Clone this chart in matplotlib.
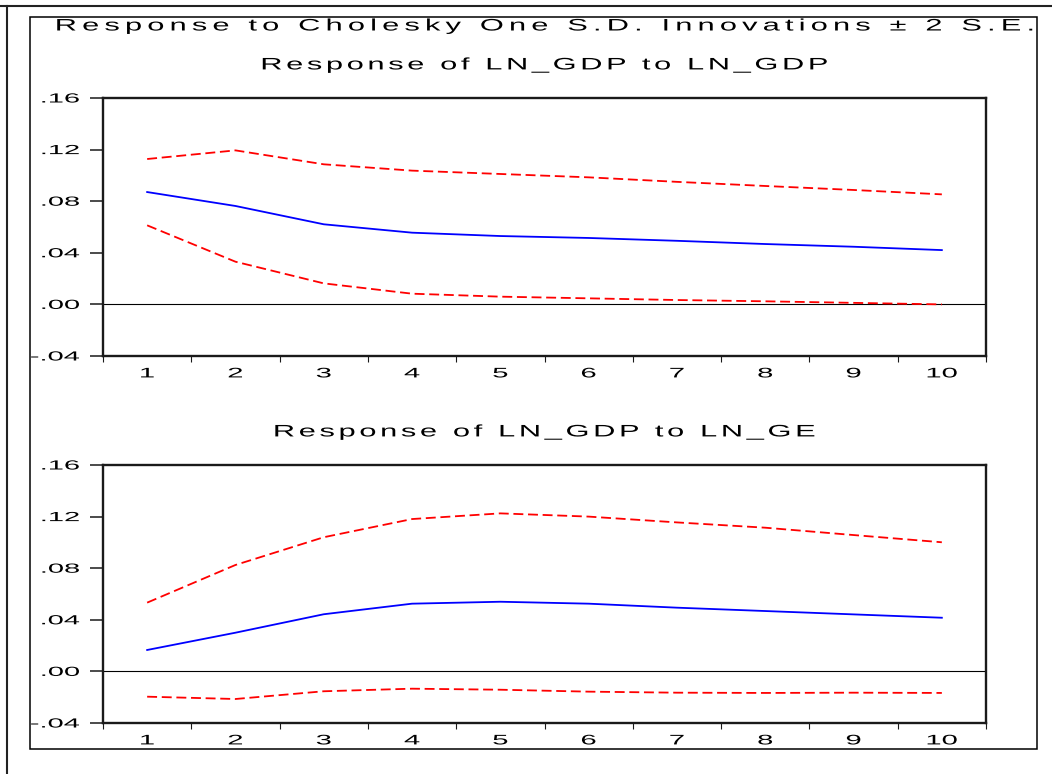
import numpy as np
import matplotlib
matplotlib.use("Agg")
import matplotlib.pyplot as plt
from matplotlib.patheffects import AbstractPathEffect
from matplotlib.path import Path
from matplotlib.transforms import IdentityTransform
from matplotlib.lines import Line2D
from matplotlib.patches import Rectangle

# ---------------- data ----------------
periods = [1, 2, 3, 4, 5, 6, 7, 8, 9, 10]
period_labels = ["1", "2", "3", "4", "5", "6", "7", "8", "9", "10"]
yticks = [-0.04, 0.00, 0.04, 0.08, 0.12, 0.16]
ytick_labels = ["-.04", ".00", ".04", ".08", ".12", ".16"]

gdp_gdp_resp = [0.0871, 0.0763, 0.0621, 0.0556, 0.0530, 0.0515, 0.0493, 0.0468, 0.0447, 0.0421]
gdp_gdp_upper = [0.1127, 0.1194, 0.1086, 0.1037, 0.1011, 0.0985, 0.0950, 0.0918, 0.0887, 0.0853]
gdp_gdp_lower = [0.0613, 0.0331, 0.0163, 0.0083, 0.0060, 0.0047, 0.0034, 0.0024, 0.0012, 0.0000]

gdp_ge_resp = [0.0166, 0.0300, 0.0443, 0.0525, 0.0540, 0.0525, 0.0494, 0.0468, 0.0442, 0.0416]
gdp_ge_upper = [0.0533, 0.0825, 0.1040, 0.1181, 0.1225, 0.1200, 0.1155, 0.1114, 0.1057, 0.1001]
gdp_ge_lower = [-0.0196, -0.0214, -0.0154, -0.0134, -0.0142, -0.0157, -0.0165, -0.0167, -0.0165, -0.0167]

main_title = "Response to Cholesky One S.D. Innovations \u00b1 2 S.E."
panel_titles = ["Response of LN_GDP to LN_GDP", "Response of LN_GDP to LN_GE"]


# ------------- EViews-like wide lettering (text stays a real Text) -------------
class WideLetters(AbstractPathEffect):
    def __init__(self, stretch=1.0, spacing=0.0, target=None, anchor="center",
                 space_gap=4.0):
        super().__init__()
        self.stretch = stretch
        self.spacing = spacing
        self.target = target
        self.anchor = anchor
        self.space_gap = space_gap

    def draw_path(self, renderer, gc, tpath, affine, rgbFace=None):
        p = affine.transform_path(tpath)
        v = np.array(p.vertices, dtype=float)
        c = p.codes
        if c is None or len(v) == 0:
            renderer.draw_path(gc, tpath, affine, rgbFace)
            return
        starts = list(np.flatnonzero(c == Path.MOVETO))
        if not starts or starts[0] != 0:
            starts = [0] + starts
        bounds = starts + [len(v)]
        subs = []
        for i in range(len(starts)):
            a, b = bounds[i], bounds[i + 1]
            m = c[a:b] != Path.CLOSEPOLY
            xs = v[a:b][m, 0]
            if len(xs) == 0:
                continue
            subs.append([a, b, xs.min(), xs.max()])
        if not subs:
            renderer.draw_path(gc, tpath, affine, rgbFace)
            return
        subs.sort(key=lambda s: s[2])
        k = 0
        cur_max = subs[0][3]
        ks = [0]
        for s in subs[1:]:
            if s[2] > cur_max - 0.3:
                gap = s[2] - cur_max
                k += 2 if gap > self.space_gap else 1
                cur_max = s[3]
            else:
                cur_max = max(cur_max, s[3])
            ks.append(k)
        x0 = min(s[2] for s in subs)
        x1 = max(s[3] for s in subs)
        gx = self.stretch
        sp = renderer.points_to_pixels(self.spacing)
        if self.target is not None and k > 0:
            tgt = renderer.points_to_pixels(self.target)
            sp = (tgt - gx * (x1 - x0)) / k
        nv = v.copy()
        for s, kk in zip(subs, ks):
            a, b = s[0], s[1]
            nv[a:b, 0] = gx * v[a:b, 0] + sp * kk
        nx0 = gx * x0
        nx1 = gx * x1 + sp * k
        if self.anchor == "right":
            shift = x1 - nx1
        elif self.anchor == "left":
            shift = x0 - nx0
        else:
            shift = 0.5 * (x0 + x1) - 0.5 * (nx0 + nx1)
        nv[:, 0] += shift
        renderer.draw_path(gc, Path(nv, c), IdentityTransform(), rgbFace)


PX = 72.0 / 100.0  # pixels -> points at dpi 100

plt.rcParams["font.family"] = ["Liberation Sans", "DejaVu Sans"]

fig = plt.figure(figsize=(10.52, 7.74), dpi=100)
fig.patch.set_facecolor("white")

FW, FH = 1052.0, 774.0
axes_boxes = [(103, 98, 986, 356), (103, 465, 986, 723)]
title_y = [65, 432]
series = [
    (gdp_gdp_resp, gdp_gdp_upper, gdp_gdp_lower),
    (gdp_ge_resp, gdp_ge_upper, gdp_ge_lower),
]
title_widths = [564, 539]
spine_col = "#1a1a1a"
dash = (0, (5.5, 2.6))

for box, (resp, up, lo), ttl, ty, tw in zip(axes_boxes, series, panel_titles, title_y, title_widths):
    l, t, r, b = box
    ax = fig.add_axes([l / FW, 1 - b / FH, (r - l) / FW, (b - t) / FH])
    ax.plot(periods, up, color="#ff0000", lw=1.3, linestyle=dash)
    ax.plot(periods, lo, color="#ff0000", lw=1.3, linestyle=dash)
    ax.plot(periods, resp, color="#0000ff", lw=1.3)
    ax.axhline(0, color="black", lw=0.8, zorder=1)
    ax.set_xlim(periods[0] - 0.5, periods[-1] + 0.5)
    ax.set_ylim(yticks[0], yticks[-1])

    edges = [p - 0.5 for p in periods] + [periods[-1] + 0.5]
    ax.set_xticks(edges)
    ax.set_xticks(periods, labels=period_labels, minor=True)
    ax.tick_params(axis="x", which="major", length=4.3, width=0.8, direction="out",
                   color=spine_col, labelbottom=False)
    ax.tick_params(axis="x", which="minor", length=0, pad=7.5, labelsize=10)
    ax.set_yticks(yticks, labels=ytick_labels)
    ax.tick_params(axis="y", which="major", length=9.4, width=1.1, direction="out",
                   color=spine_col, pad=7.5, labelsize=9.5)
    for sp_ in ax.spines.values():
        sp_.set_linewidth(1.7)
        sp_.set_color(spine_col)

    for lbl in ax.get_xticklabels(minor=True):
        lbl.set_path_effects([WideLetters(stretch=2.1, spacing=0.0, anchor="center")])
    for lbl in ax.get_yticklabels():
        lbl.set_path_effects([WideLetters(stretch=2.2, spacing=0.0, anchor="right")])

    cx = (l + r) / 2 / FW
    fig.text(cx, 1 - ty / FH, ttl, ha="center", va="center", fontsize=12,
             path_effects=[WideLetters(stretch=1.85, target=tw * PX, anchor="center",
                                       space_gap=4.0)])

fig.text((103 + 986) / 2 / FW, 1 - 26 / FH, main_title, ha="center", va="center",
         fontsize=12,
         path_effects=[WideLetters(stretch=1.85, target=975 * PX, anchor="center",
                                   space_gap=4.0)])

# frames
fig.add_artist(Line2D([0, 1], [1 - 6 / FH, 1 - 6 / FH], transform=fig.transFigure,
                      color="#222222", lw=1.5))
fig.add_artist(Line2D([7 / FW, 7 / FW], [0, 1 - 6 / FH], transform=fig.transFigure,
                      color="#222222", lw=1.5))
fig.add_artist(Rectangle((30 / FW, 1 - 749 / FH), (1037 - 30) / FW, (749 - 17) / FH,
                         transform=fig.transFigure, fill=False, edgecolor="black", lw=1.1))

fig.savefig("out.png", dpi=100)
